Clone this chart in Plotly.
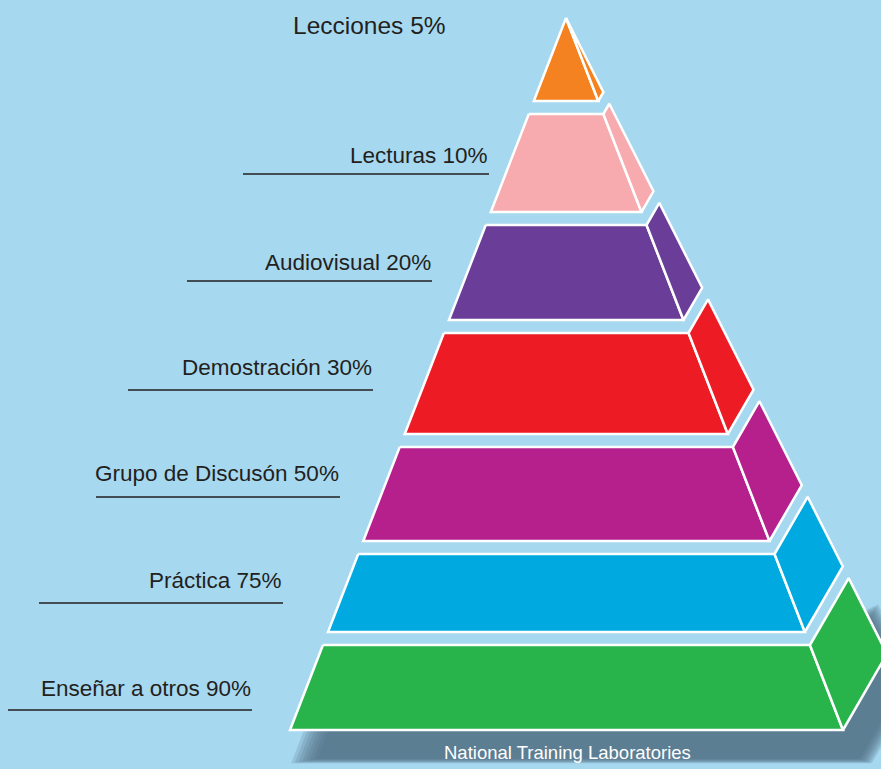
import plotly.graph_objects as go

# ---------------- data ----------------
levels = ["Lecciones", "Lecturas", "Audiovisual", "Demostración",
          "Grupo de Discusón", "Práctica", "Enseñar a otros"]
retention_pct = [5, 10, 20, 30, 50, 75, 90]
tier_colors = ["#f58220", "#f7abaf", "#6a3e98", "#ed1c24",
               "#b5208c", "#00aae0", "#29b34b"]
source_note = "National Training Laboratories"

# ---------------- geometry (layout) ----------------
W, H = 881, 769
BG = "#a6d8f0"
apex = (566, 18)
base_left = (290, 730)
base_right = (843, 730)
back_corner = (887, 654)
tier_top = [18, 114, 225, 333, 447, 554, 645]
tier_bot = [101, 212, 320, 434, 541, 632, 730]

label_right = [None, 489, 432, 373, 340, 283, 252]
label_y = [25, 155, 262, 367, 473, 580, 688]
line_left = [None, 243, 187, 128, 96, 39, 8]
line_y = [None, 174, 281, 390, 497, 603, 710]


def frac(y):
    return (y - apex[1]) / (base_left[1] - apex[1])


def on_edge(end, f):
    return (apex[0] + f * (end[0] - apex[0]), apex[1] + f * (end[1] - apex[1]))


def FL(y):
    return on_edge(base_left, frac(y))


def FR(y):
    return on_edge(base_right, frac(y))


def BK(y):
    return on_edge(back_corner, frac(y))


fig = go.Figure()


def poly(pts, fill, line_color="white", line_width=2.5):
    xs = [p[0] for p in pts] + [pts[0][0]]
    ys = [p[1] for p in pts] + [pts[0][1]]
    fig.add_trace(go.Scatter(
        x=xs, y=ys, mode="lines", fill="toself", fillcolor=fill,
        line=dict(color=line_color, width=line_width),
        hoverinfo="skip", showlegend=False))


# soft shadow under the base tier (layered)
yt, yb = tier_top[-1], tier_bot[-1]
hull = [FL(yt), FR(yt), BK(yt), BK(yb), FR(yb), FL(yb)]
dx, dy = 20, 30
cx = sum(p[0] for p in hull) / len(hull) + dx
cy = sum(p[1] for p in hull) / len(hull) + dy
for s in [1.05, 1.04, 1.03, 1.02, 1.01, 1.0, 0.99, 0.98]:
    pts = [(cx + (p[0] + dx - cx) * s, cy + (p[1] + dy - cy) * s) for p in hull]
    poly(pts, "rgba(80,110,130,0.2)", line_color="rgba(0,0,0,0)", line_width=0)

# tiers
for i in range(len(levels)):
    yt, yb = tier_top[i], tier_bot[i]
    c = tier_colors[i]
    if i == 0:
        poly([apex, FL(yb), FR(yb)], c)
        poly([apex, BK(yb), FR(yb)], c)
    else:
        poly([FL(yt), FR(yt), FR(yb), FL(yb)], c)
        poly([FR(yt), BK(yt), BK(yb), FR(yb)], c)

# labels
family = "Liberation Sans, Arial, sans-serif"
for i, (lev, pct) in enumerate(zip(levels, retention_pct)):
    txt = f"{lev} {pct}%"
    if label_right[i] is None:
        fig.add_annotation(x=369, y=label_y[i], text=txt, showarrow=False,
                           xanchor="center", yanchor="middle",
                           font=dict(family=family, size=24.5, color="#231f20"))
    else:
        fig.add_annotation(x=label_right[i] + 1, y=label_y[i], text=txt, showarrow=False,
                           xanchor="right", yanchor="middle",
                           font=dict(family=family, size=22.5, color="#231f20"))
        fig.add_shape(type="line", x0=line_left[i], x1=label_right[i],
                      y0=line_y[i], y1=line_y[i],
                      line=dict(color="#231f20", width=1.3))

fig.add_annotation(x=567, y=752, text=source_note, showarrow=False,
                   xanchor="center", yanchor="middle",
                   font=dict(family=family, size=18.5, color="white"))

fig.update_xaxes(range=[0, W], visible=False, fixedrange=True)
fig.update_yaxes(range=[H, 0], visible=False, fixedrange=True)
fig.update_layout(width=W, height=H, margin=dict(l=0, r=0, t=0, b=0),
                  paper_bgcolor=BG, plot_bgcolor=BG, showlegend=False)

fig.write_html("out.html", config={"displayModeBar": False},
               post_script="document.body.style.margin='0';document.body.style.padding='0';"
                           "document.body.style.overflow='hidden';"
                           "document.body.style.background='" + BG + "';")
